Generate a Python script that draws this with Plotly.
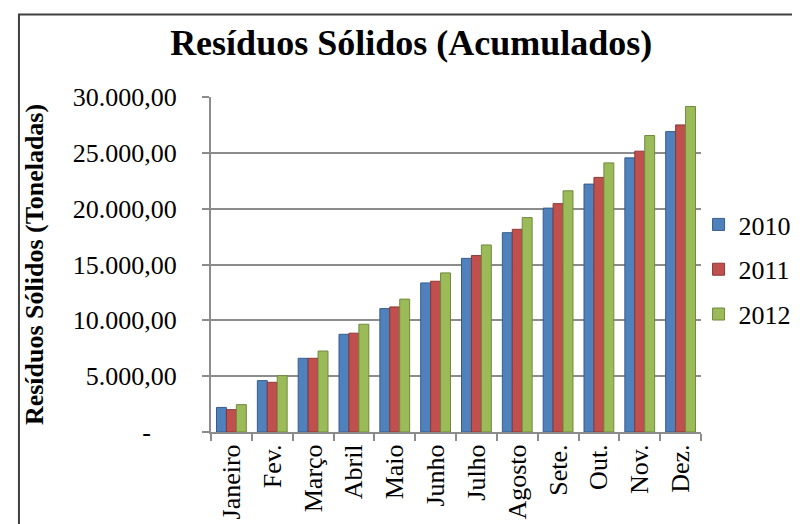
import plotly.graph_objects as go

months = ["Janeiro", "Fev.", "Março", "Abril", "Maio", "Junho", "Julho",
          "Agosto", "Sete.", "Out.", "Nov.", "Dez."]
v2010 = [2200, 4600, 6600, 8750, 11050, 13350, 15550, 17850, 20050, 22200, 24550, 26900]
v2011 = [2000, 4450, 6600, 8850, 11200, 13500, 15800, 18150, 20450, 22800, 25150, 27500]
v2012 = [2450, 5050, 7250, 9650, 11900, 14250, 16750, 19200, 21600, 24100, 26550, 29150]
years = ["2010", "2011", "2012"]
tick_vals = [0, 5000, 10000, 15000, 20000, 25000, 30000]
tick_text = ["-\u00a0\u00a0\u00a0\u00a0", "5.000,00", "10.000,00", "15.000,00",
             "20.000,00", "25.000,00", "30.000,00"]

colors = ["#4F81BD", "#C0504D", "#9BBB59"]
edges = ["#385D8A", "#8C3836", "#71893F"]

fig = go.Figure()
for name, vals, c, e in zip(years, [v2010, v2011, v2012], colors, edges):
    fig.add_trace(go.Bar(x=months, y=vals, name=name, legendgroup=name,
                         marker=dict(color=c, line=dict(color=e, width=1))))

serif = "Liberation Serif, Times New Roman, serif"
L, R, T, B = 203, 102, 89, 98
W, H = 800, 524
pw, ph = W - L - R, H - T - B

fig.update_layout(
    width=W, height=H,
    margin=dict(l=L, r=R, t=T, b=B),
    paper_bgcolor="white", plot_bgcolor="white",
    barmode="group", bargap=0.27, bargroupgap=0,
    font=dict(family=serif, size=26, color="black"),
    title=dict(text="<b>Resíduos Sólidos (Acumulados)</b>", x=0.504, xanchor="center",
               y=0.935, yanchor="middle", yref="container",
               font=dict(family=serif, size=36, color="black")),
    legend=dict(x=0.995, xanchor="left", y=0.485, yanchor="middle",
                traceorder="grouped", tracegroupgap=8,
                font=dict(family=serif, size=26, color="black"),
                bgcolor="rgba(0,0,0,0)"),
    showlegend=True,
    shapes=[dict(type="rect", xref="paper", yref="paper",
                 x0=(9 - L) / pw, x1=(W + 5 - L) / pw,
                 y0=-(H + 5 - (H - B)) / ph, y1=((H - B) - 6) / ph,
                 line=dict(color="#404040", width=2), layer="below")],
)
fig.update_yaxes(range=[0, 30000], tickvals=tick_vals, ticktext=tick_text,
                 showgrid=True, gridcolor="#8C8C8C", gridwidth=2,
                 showline=True, linecolor="#8C8C8C", linewidth=2,
                 ticks="outside", ticklen=7, tickcolor="#8C8C8C", tickwidth=2,
                 ticklabelstandoff=20, zeroline=False,
                 title=dict(text="<b>Resíduos Sólidos (Toneladas)</b>", standoff=22,
                            font=dict(family=serif, size=26, color="black")),
                 tickfont=dict(family=serif, size=26, color="black"))
fig.update_xaxes(showline=True, linecolor="#8C8C8C", linewidth=2,
                 ticks="outside", ticklen=7, tickcolor="#8C8C8C", tickwidth=2,
                 tickson="boundaries", tickangle=-90,
                 tickfont=dict(family=serif, size=26, color="black"))

fig.write_html("out.html")
